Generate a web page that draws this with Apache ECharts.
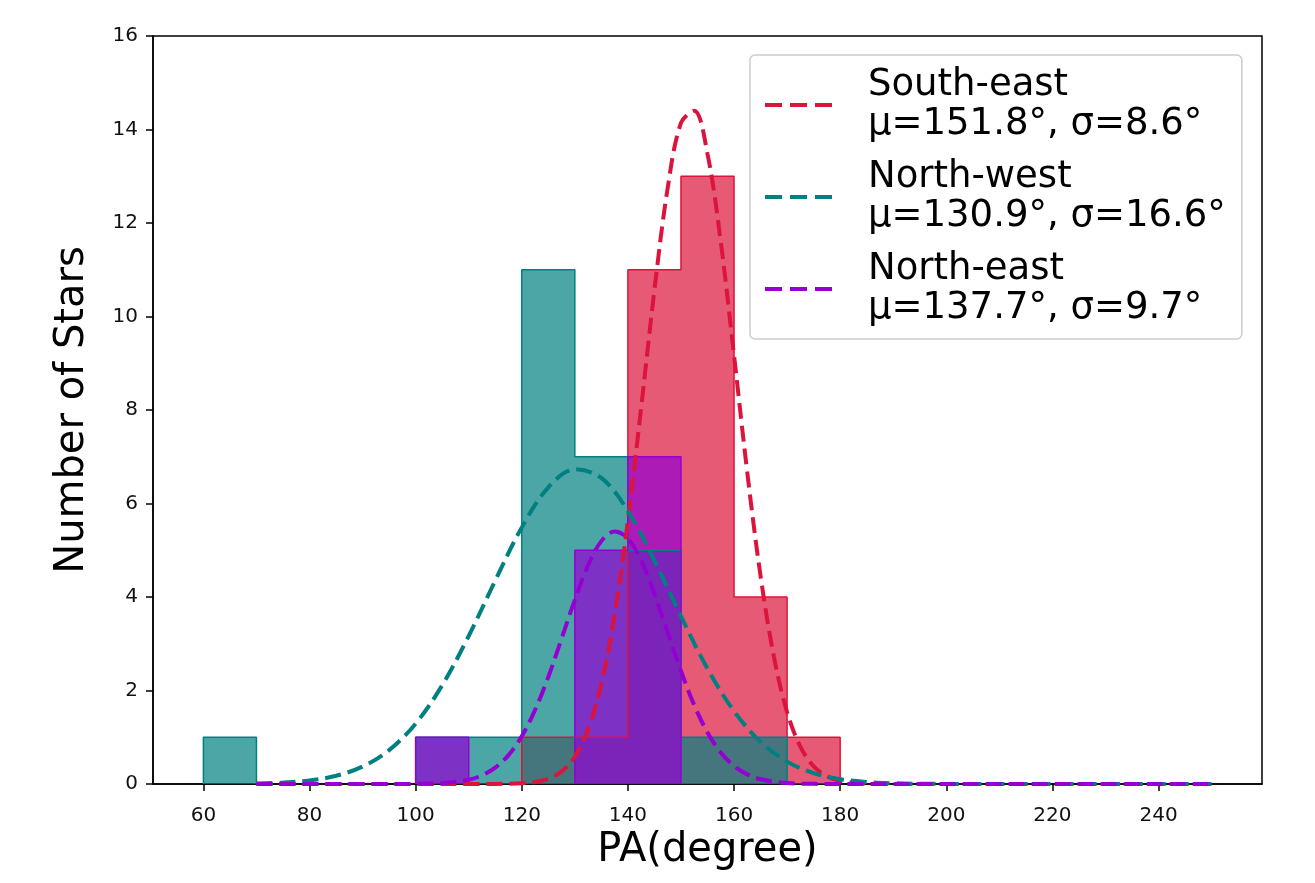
<!DOCTYPE html>
<html>
<head>
<meta charset="utf-8">
<script src="https://cdn.jsdelivr.net/npm/echarts@6/dist/echarts.min.js"></script>
<style>
html,body{margin:0;padding:0;background:#fff;}
#chart{width:1315px;height:883px;}
</style>
</head>
<body>
<div id="chart"></div>
<script>
// ---- data ----
const binEdges = [60, 70, 80, 90, 100, 110, 120, 130, 140, 150, 160, 170, 180];
const countsSE = [0, 0, 0, 0, 0, 0, 1, 1, 11, 13, 4, 1];
const countsNW = [1, 0, 0, 0, 1, 1, 11, 7, 5, 1, 1, 0];
const countsNE = [0, 0, 0, 0, 1, 0, 0, 5, 7, 0, 0, 0];

const seriesNames = [
  'South-east\nμ=151.8°, σ=8.6°',
  'North-west\nμ=130.9°, σ=16.6°',
  'North-east\nμ=137.7°, σ=9.7°'
];

// fitted curves, values
const curveSEx = [70, 100, 110, 115, 120, 122.5, 125, 127.5, 130, 132.5, 135, 137.5, 140, 142.5, 145, 147.5, 150, 152.5, 155, 157.5, 160, 162.5, 165, 167.5, 170, 172.5, 175, 177.5, 180, 185, 190, 200, 250];
const curveSEy = [0, 0, 0.0001, 0.0015, 0.016, 0.044, 0.112, 0.267, 0.582, 1.165, 2.144, 3.627, 5.637, 8.053, 10.57, 12.75, 14.14, 14.40, 13.48, 11.60, 9.17, 6.66, 4.45, 2.73, 1.539, 0.798, 0.380, 0.166, 0.067, 0.008, 0.001, 0, 0];

const curveNWx = [70, 75, 80, 85, 90, 95, 100, 105, 110, 115, 120, 125, 130, 135, 140, 145, 150, 155, 160, 165, 170, 175, 180, 185, 190, 195, 200, 210, 250];
const curveNWy = [0.011, 0.030, 0.076, 0.176, 0.373, 0.725, 1.292, 2.112, 3.166, 4.352, 5.488, 6.346, 6.731, 6.547, 5.840, 4.778, 3.586, 2.467, 1.558, 0.902, 0.479, 0.233, 0.104, 0.043, 0.016, 0.006, 0.002, 0, 0];

const curveNEx = [70, 95, 100, 105, 110, 112.5, 115, 117.5, 120, 122.5, 125, 127.5, 130, 132.5, 135, 137.5, 140, 142.5, 145, 147.5, 150, 152.5, 155, 157.5, 160, 162.5, 165, 170, 175, 180, 250];
const curveNEy = [0, 0, 0.003, 0.018, 0.092, 0.185, 0.349, 0.618, 1.022, 1.582, 2.292, 3.107, 3.940, 4.677, 5.195, 5.400, 5.250, 4.778, 4.068, 3.242, 2.417, 1.686, 1.101, 0.672, 0.384, 0.206, 0.103, 0.021, 0.003, 0, 0];

const xTicks = [60, 80, 100, 120, 140, 160, 180, 200, 220, 240];

// ---- helpers ----
function stepData(counts) {
  const pts = [];
  let inRun = false;
  for (let i = 0; i < counts.length; i++) {
    const c = counts[i];
    if (c > 0) {
      if (!inRun) { pts.push([binEdges[i], 0]); inRun = true; }
      pts.push([binEdges[i], c]);
    } else if (inRun) {
      pts.push([binEdges[i], 0]);
      pts.push('-');
      inRun = false;
    }
  }
  if (inRun) pts.push([binEdges[counts.length], 0]);
  return pts;
}
function pairs(xs, ys) { return xs.map((x, i) => [x, ys[i]]); }

const FONT = 'DejaVu Sans';
const cRed = '#DC143C', cTeal = '#008080', cViolet = '#9400D3';

function histSeries(name, counts, color, fill) {
  return {
    name: name, type: 'line', step: 'end', data: stepData(counts),
    symbol: 'none', connectNulls: false, silent: true,
    lineStyle: { color: color, width: 1.5 },
    areaStyle: { color: fill, opacity: 1 },
    itemStyle: { color: color },
    emphasis: { disabled: true }
  };
}
function curveSeries(name, xs, ys, color) {
  return {
    name: name, type: 'line', data: pairs(xs, ys),
    symbol: 'none', smooth: 0.35, silent: true,
    lineStyle: { color: color, width: 4, type: [16, 7] },
    itemStyle: { color: color },
    emphasis: { disabled: true }
  };
}

const chart = echarts.init(document.getElementById('chart'), null, { renderer: 'canvas' });
chart.setOption({
  animation: false,
  backgroundColor: '#fff',
  grid: { left: 153, right: 53, top: 36, bottom: 99, show: true, borderColor: '#000', borderWidth: 1.5, backgroundColor: 'transparent' },
  xAxis: {
    type: 'value', min: 50.5, max: 259.5,
    name: 'PA(degree)', nameLocation: 'middle', nameGap: 47,
    nameTextStyle: { fontFamily: FONT, fontSize: 40, color: '#000' },
    axisLine: { show: true, lineStyle: { color: '#000', width: 1.5 } },
    axisTick: { show: true, length: 7, lineStyle: { color: '#000', width: 1.5 }, customValues: xTicks },
    axisLabel: { fontFamily: FONT, fontSize: 20, color: '#111', margin: 22, customValues: xTicks },
    splitLine: { show: false }
  },
  yAxis: {
    type: 'value', min: 0, max: 16, interval: 2,
    name: 'Number of Stars', nameLocation: 'middle', nameGap: 60,
    nameTextStyle: { fontFamily: FONT, fontSize: 40, color: '#000' },
    axisLine: { show: true, lineStyle: { color: '#000', width: 1.5 } },
    axisTick: { show: true, length: 7, lineStyle: { color: '#000', width: 1.5 } },
    axisLabel: { fontFamily: FONT, fontSize: 20, color: '#111', margin: 15 },
    splitLine: { show: false }
  },
  legend: {
    orient: 'vertical', left: 750, top: 55,
    padding: [11, 16, 11, 15], itemGap: 14,
    itemWidth: 67, itemHeight: 4,
    icon: 'path://M0 0H17V4H0Z M25 0H42V4H25Z M50 0H67V4H50Z',
    itemStyle: { borderWidth: 0 },
    backgroundColor: 'rgba(255,255,255,0.8)', borderColor: '#cccccc', borderWidth: 1.5, borderRadius: 5,
    textStyle: { fontFamily: FONT, fontSize: 37, lineHeight: 39, color: '#000', padding: [0, 0, 0, 31] },
    selectedMode: false,
    data: seriesNames
  },
  series: [
    histSeries('hist SE', countsSE, cRed, 'rgba(220,20,60,0.7)'),
    histSeries('hist NW', countsNW, cTeal, 'rgba(0,128,128,0.7)'),
    histSeries('hist NE', countsNE, cViolet, 'rgba(148,0,211,0.7)'),
    curveSeries(seriesNames[0], curveSEx, curveSEy, cRed),
    curveSeries(seriesNames[1], curveNWx, curveNWy, cTeal),
    curveSeries(seriesNames[2], curveNEx, curveNEy, cViolet)
  ]
});
</script>
</body>
</html>
